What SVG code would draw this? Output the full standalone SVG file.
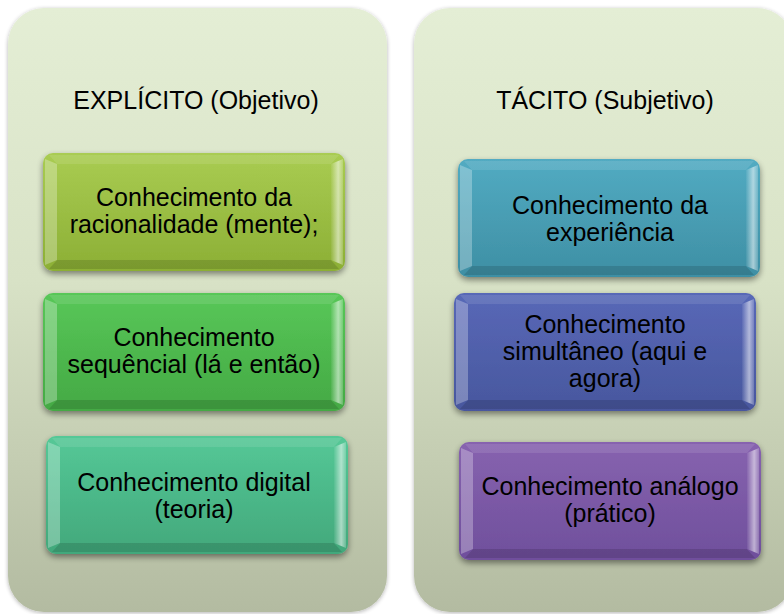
<svg xmlns="http://www.w3.org/2000/svg" xmlns:xlink="http://www.w3.org/1999/xlink" width="784" height="614" viewBox="0 0 784 614">
<style>
.title{font-family:"Liberation Sans",Arial,sans-serif;font-size:25px;fill:#000;text-anchor:middle}
.lbl{font-family:"Liberation Sans",Arial,sans-serif;font-size:25px;fill:#000;text-anchor:middle}
.lt{fill:#fff;fill-opacity:0.28}
.tp{fill:#fff;fill-opacity:0.1}
.bt{fill:#000;fill-opacity:0.13}
</style>
<defs>
<linearGradient id="panel" x1="0" y1="0" x2="0" y2="1">
<stop offset="0" stop-color="#e4eed5"/>
<stop offset="0.45" stop-color="#d8e2c6"/>
<stop offset="1" stop-color="#b3bba1"/>
</linearGradient>
<linearGradient id="rh" x1="0" y1="0" x2="1" y2="0">
<stop offset="0" stop-color="#fff" stop-opacity="0.05"/>
<stop offset="0.6" stop-color="#fff" stop-opacity="0.55"/>
<stop offset="1" stop-color="#fff" stop-opacity="0.2"/>
</linearGradient>
<linearGradient id="c1" x1="0" y1="0" x2="0" y2="1"><stop offset="0" stop-color="#a9cc52"/><stop offset="1" stop-color="#8caf35"/></linearGradient>
<linearGradient id="c2" x1="0" y1="0" x2="0" y2="1"><stop offset="0" stop-color="#58c758"/><stop offset="1" stop-color="#44a944"/></linearGradient>
<linearGradient id="c3" x1="0" y1="0" x2="0" y2="1"><stop offset="0" stop-color="#55c897"/><stop offset="1" stop-color="#42a87b"/></linearGradient>
<linearGradient id="c4" x1="0" y1="0" x2="0" y2="1"><stop offset="0" stop-color="#52abc2"/><stop offset="1" stop-color="#3e8fa4"/></linearGradient>
<linearGradient id="c5" x1="0" y1="0" x2="0" y2="1"><stop offset="0" stop-color="#5868b7"/><stop offset="1" stop-color="#48579e"/></linearGradient>
<linearGradient id="c6" x1="0" y1="0" x2="0" y2="1"><stop offset="0" stop-color="#8763af"/><stop offset="1" stop-color="#6f4f9c"/></linearGradient>
<filter id="sh" x="-10%" y="-10%" width="120%" height="130%">
<feGaussianBlur in="SourceAlpha" stdDeviation="3"/>
<feOffset dy="3" result="b"/>
<feComponentTransfer><feFuncA type="linear" slope="0.45"/></feComponentTransfer>
<feMerge><feMergeNode/><feMergeNode in="SourceGraphic"/></feMerge>
</filter>
<filter id="psh" x="-5%" y="-5%" width="110%" height="110%">
<feGaussianBlur in="SourceAlpha" stdDeviation="2"/>
<feOffset dy="1"/>
<feComponentTransfer><feFuncA type="linear" slope="0.3"/></feComponentTransfer>
<feMerge><feMergeNode/><feMergeNode in="SourceGraphic"/></feMerge>
</filter>
<g id="bevel">
<polygon class="tp" points="6,2 296,2 288,11 14,11"/>
<polygon class="bt" points="14,107 288,107 296,116 6,116"/>
<polygon class="lt" points="2,6 14,11 14,107 2,112"/>
<polygon fill="url(#rh)" points="288,11 300,6 300,112 288,107"/>
</g>
</defs>

<g id="panel-explicito">
<rect x="8" y="8" width="379" height="604" rx="36" fill="url(#panel)" filter="url(#psh)"/>
<text class="title" x="196" y="109">EXPLÍCITO (Objetivo)</text>
</g>
<g id="panel-tacito">
<rect x="414" y="8" width="379" height="604" rx="36" fill="url(#panel)" filter="url(#psh)"/>
<text class="title" x="605" y="109">TÁCITO (Subjetivo)</text>
</g>

<g id="node-racionalidade" transform="translate(43,153)">
<rect width="302" height="118" rx="10" fill="url(#c1)" filter="url(#sh)"/>
<use xlink:href="#bevel"/>
<text class="lbl" x="151" y="53">Conhecimento da</text>
<text class="lbl" x="151" y="80">racionalidade (mente);</text>
</g>
<g id="node-sequencial" transform="translate(43,293)">
<rect width="302" height="118" rx="10" fill="url(#c2)" filter="url(#sh)"/>
<use xlink:href="#bevel"/>
<text class="lbl" x="151" y="53">Conhecimento</text>
<text class="lbl" x="151" y="80">sequêncial (lá e então)</text>
</g>
<g id="node-digital" transform="translate(46,436)">
<rect width="302" height="118" rx="10" fill="url(#c3)" filter="url(#sh)"/>
<use xlink:href="#bevel"/>
<text class="lbl" x="148" y="55">Conhecimento digital</text>
<text class="lbl" x="148" y="82">(teoria)</text>
</g>

<g id="node-experiencia" transform="translate(458,159)">
<rect width="302" height="118" rx="10" fill="url(#c4)" filter="url(#sh)"/>
<use xlink:href="#bevel"/>
<text class="lbl" x="152" y="55">Conhecimento da</text>
<text class="lbl" x="152" y="82">experiência</text>
</g>
<g id="node-simultaneo" transform="translate(454,293)">
<rect width="302" height="118" rx="10" fill="url(#c5)" filter="url(#sh)"/>
<use xlink:href="#bevel"/>
<text class="lbl" x="151" y="40">Conhecimento</text>
<text class="lbl" x="151" y="67">simultâneo (aqui e</text>
<text class="lbl" x="151" y="94">agora)</text>
</g>
<g id="node-analogo" transform="translate(459,442)">
<rect width="302" height="118" rx="10" fill="url(#c6)" filter="url(#sh)"/>
<use xlink:href="#bevel"/>
<text class="lbl" x="151" y="53">Conhecimento análogo</text>
<text class="lbl" x="151" y="80">(prático)</text>
</g>
<g id="connectors"/>
</svg>
